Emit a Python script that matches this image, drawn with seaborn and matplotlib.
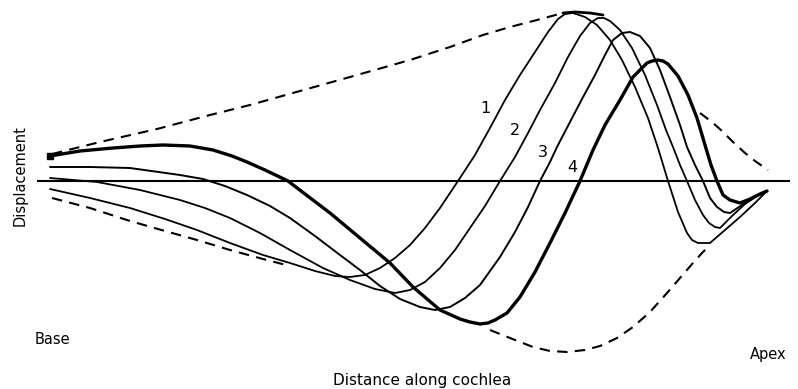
import numpy as np
import pandas as pd
import matplotlib
matplotlib.use("Agg")
import matplotlib.pyplot as plt
import seaborn as sns

# ---- data (distance along cochlea, displacement) ----
c1_x = [50, 90, 130, 165, 197, 230, 263, 290, 315, 335, 350, 365, 380, 395, 410, 425, 440, 458,
        475, 490, 505, 520, 535, 548, 558, 565, 573, 585, 597, 610, 622, 635, 648, 658, 668,
        678, 687, 692, 698, 710, 725, 740, 755, 767]
c1_y = [-8, -17, -27, -38, -49, -62, -74, -82, -90, -95, -96, -94, -87, -77, -64, -47, -27, 0,
        26, 53, 81, 106, 129, 149, 162, 167, 168, 164, 156, 141, 121, 94, 63, 33, 0,
        -31, -52, -59, -62, -62, -49, -36, -22, -10]

c2_x = [50, 97, 140, 180, 205, 230, 260, 290, 323, 350, 375, 395, 410, 425, 440, 455, 470, 485,
        500, 515, 528, 540, 555, 568, 580, 590, 598, 604, 610, 620, 632, 645, 657, 666, 673, 680,
        687, 695, 703, 709, 715, 720, 732, 745, 757, 767]
c2_y = [3, -1, -9, -19, -27, -37, -52, -69, -87, -99, -108, -112, -109, -101, -87, -69, -47, -25,
        0, 24, 48, 71, 98, 124, 145, 158, 163, 163, 160, 151, 133, 106, 76, 51, 34, 16,
        0, -19, -34, -42, -46, -47, -35, -23, -15, -10]

c3_x = [50, 90, 130, 180, 203, 225, 247, 270, 290, 315, 340, 360, 380, 400, 420, 435, 450, 465,
        480, 500, 515, 528, 540, 550, 557, 570, 582, 595, 605, 613, 622, 630, 640, 650, 660,
        670, 680, 687, 695, 703, 710, 717, 724, 730, 742, 755, 767]
c3_y = [14, 14, 13, 6, 2, -5, -14, -25, -37, -55, -74, -89, -105, -118, -126, -129, -126, -117,
        -104, -76, -51, -26, 0, 19, 34, 59, 82, 106, 126, 141, 148, 149, 145, 133, 111,
        84, 56, 34, 16, 0, -17, -26, -31, -32, -24, -16, -10]

c4_x = [50, 80, 113, 140, 163, 190, 213, 232, 247, 265, 288, 305, 330, 360, 390, 413, 440, 460,
        470, 480, 488, 495, 507, 520, 535, 550, 565, 580, 593, 605, 620, 633, 647, 652, 658, 663,
        668, 678, 688, 697, 705, 711, 717, 723, 730, 740, 750, 760, 767]
c4_y = [25, 30, 33, 35, 36, 35, 31, 25, 19, 11, 0, -13, -32, -57, -82, -106, -129, -138,
        -141, -143, -142, -139, -132, -116, -91, -62, -32, 0, 31, 56, 81, 104, 118, 120, 121, 120,
        117, 105, 86, 63, 36, 16, 0, -14, -19, -22, -18, -13, -10]

# envelopes (dashed parts and the solid crest)
up_left_x = [52, 100, 157, 210, 250, 300, 350, 410, 450, 483, 510, 537, 563]
up_left_y = [27, 39, 52, 66, 76, 90, 104, 121, 134, 146, 154, 161, 168]
crest_x = [563, 575, 590, 603]
crest_y = [168, 169, 168, 166]
up_right_x = [700, 712, 722, 733, 745, 755, 768]
up_right_y = [68, 59, 50, 39, 28, 20, 11]
low_left_x = [52, 90, 130, 165, 197, 230, 263, 290]
low_left_y = [-17, -27, -40, -50, -59, -69, -78, -85]
low_right_x = [490, 515, 533, 550, 567, 585, 600, 617, 633, 650, 667, 680, 693, 702, 710]
low_right_y = [-149, -159, -166, -170, -171, -169, -165, -157, -146, -131, -112, -97, -82, -72, -64]

curve_labels = ["1", "2", "3", "4"]
label_x = [485, 515, 543, 572]
label_y = [73, 51, 29, 14]

axis_start, axis_end = 37, 790

# ---- drawing ----
sns.set_theme(style="white")
plt.rcParams['font.family'] = ['DejaVu Sans']
plt.rcParams['text.color'] = 'black'

fig = plt.figure(figsize=(7.98, 3.89), dpi=100)
ax = fig.add_axes([0, 0, 1, 1])

curves = [(c1_x, c1_y, 1.3), (c2_x, c2_y, 1.3), (c3_x, c3_y, 1.4), (c4_x, c4_y, 2.4)]
for xs, ys, lw in curves:
    df = pd.DataFrame({"x": xs, "y": ys})
    sns.lineplot(data=df, x="x", y="y", ax=ax, color="black", lw=lw,
                 sort=False, estimator=None, solid_capstyle="round",
                 solid_joinstyle="round")

for xs, ys in [(up_left_x, up_left_y), (up_right_x, up_right_y),
               (low_left_x, low_left_y), (low_right_x, low_right_y)]:
    df = pd.DataFrame({"x": xs, "y": ys})
    sns.lineplot(data=df, x="x", y="y", ax=ax, color="black", lw=1.5,
                 sort=False, estimator=None, linestyle=(0, (5, 3.5)))

sns.lineplot(x=crest_x, y=crest_y, ax=ax, color="black", lw=2.0, sort=False, estimator=None)

ax.hlines(0, axis_start, axis_end, color="black", lw=1.5)

# start marker on curve 4
ax.plot(c4_x[0], c4_y[0], marker="s", ms=4, color="black")

for t, x, y in zip(curve_labels, label_x, label_y):
    ax.text(x, y, t, fontsize=11.5, ha="center", va="center", color="black")

ax.text(20, 5, "Displacement", rotation=90, fontsize=10.5, ha="center", va="center", color="black")
ax.text(52, -159, "Base", fontsize=10.5, ha="center", va="center", color="black")
ax.text(768, -173, "Apex", fontsize=10.5, ha="center", va="center", color="black")
ax.text(422, -199, "Distance along cochlea", fontsize=11, ha="center", va="center", color="black")

ax.set_xlim(0, 798)
ax.set_ylim(-208, 181)
ax.set_xlabel("")
ax.set_ylabel("")
ax.set_xticks([])
ax.set_yticks([])
for s in ax.spines.values():
    s.set_visible(False)
ax.set_facecolor("white")
fig.patch.set_facecolor("white")

fig.savefig("out.png", dpi=100, facecolor="white")
